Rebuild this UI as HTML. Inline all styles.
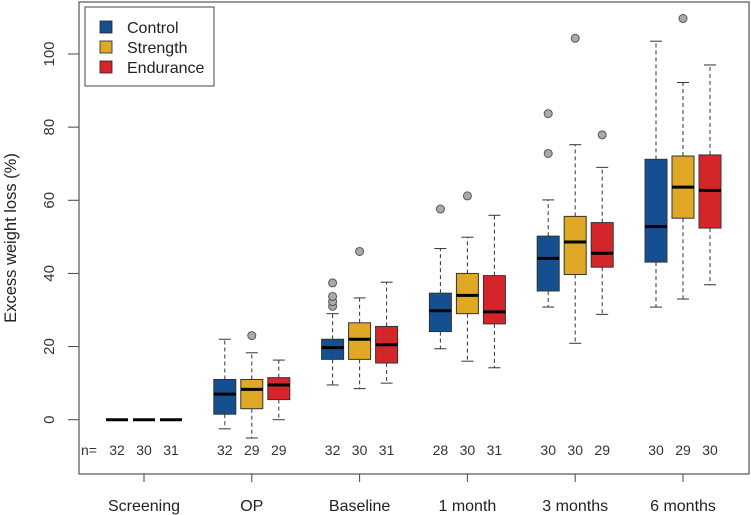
<!DOCTYPE html>
<html><head><meta charset="utf-8"><style>
html,body{margin:0;padding:0;background:#fff;}
svg{display:block;font-family:"Liberation Sans",Arial,sans-serif;}
</style></head><body>
<svg id="chart" width="751" height="515" viewBox="0 0 751 515" xmlns="http://www.w3.org/2000/svg">
<rect x="79" y="2" width="670" height="472" fill="none" stroke="#555" stroke-width="1.2"/>
<g id="yaxis"></g>
<text transform="translate(16,238) rotate(-90)" text-anchor="middle" font-size="16.5" fill="#222">Excess weight loss (%)</text>
<g id="marks"></g>
<g id="xaxis"></g>
<g>
<rect x="85" y="7" width="129" height="79" fill="#fff" stroke="#444" stroke-width="1"/>
<rect x="100" y="21" width="12" height="12" fill="#14508f" stroke="#222" stroke-width="0.8"/>
<text x="127" y="33" font-size="16" fill="#222">Control</text>
<rect x="100" y="41" width="12" height="12" fill="#e0a925" stroke="#222" stroke-width="0.8"/>
<text x="127" y="53" font-size="16" fill="#222">Strength</text>
<rect x="100" y="61" width="12" height="12" fill="#d4252a" stroke="#222" stroke-width="0.8"/>
<text x="127" y="73" font-size="16" fill="#222">Endurance</text>
</g>
</svg>
<script>
const categories = ["Screening","OP","Baseline","1 month","3 months","6 months"];
const seriesNames = ["Control","Strength","Endurance"];
const seriesColors = ["#14508f","#e0a925","#d4252a"];
// [whiskerLow, q1, median, q3, whiskerHigh] per category
const controlStats = [[0,0,0,0,0],[-2.5,1.5,7,11,22],[9.5,16.5,19.7,22,29],[19.4,24.1,29.8,34.6,46.8],[30.8,35.2,44.1,50.2,60.1],[30.8,43.1,52.8,71.2,103.5]];
const strengthStats = [[0,0,0,0,0],[-5,3,8.3,11,18.3],[8.5,16.5,22,26.5,33.3],[16,29,34,40,49.9],[20.9,39.7,48.6,55.6,75.2],[33,55.1,63.6,72.1,92.2]];
const enduranceStats = [[0,0,0,0,0],[0,5.5,9.5,11.5,16.3],[10,15.5,20.5,25.5,37.6],[14.2,26.2,29.5,39.4,55.9],[28.8,41.7,45.5,53.9,69],[36.9,52.4,62.7,72.4,97]];
const controlOutliers = [[],[],[31,32.3,33.7,37.4],[57.6],[72.8,83.7],[]];
const strengthOutliers = [[],[23],[46],[61.2],[104.3],[109.7]];
const enduranceOutliers = [[],[],[],[],[77.9],[]];
const controlN = [32,32,32,28,30,30];
const strengthN = [30,29,30,30,30,29];
const enduranceN = [31,29,31,31,29,30];
const yTicks = [0,20,40,60,80,100];

const NS="http://www.w3.org/2000/svg";
function y(v){return 419.7-v*3.657;}
function xc(i){return 144+i*107.8;}
function xs(i,s){return xc(i)+(s-1)*27;}
function mk(tag,attrs,parent){const e=document.createElementNS(NS,tag);for(const k in attrs)e.setAttribute(k,attrs[k]);parent.appendChild(e);return e;}

const yax=document.getElementById('yaxis');
yTicks.forEach(t=>{
  const l=mk('line',{x1:68,x2:79,y1:y(t),y2:y(t),stroke:'#444','stroke-width':1},yax);
  
  
  const tx=mk('text',{transform:`translate(54,${y(t)}) rotate(-90)`,'text-anchor':'middle','font-size':15,fill:'#333'},yax);
  
  
  tx.textContent=t;
});

const xax=document.getElementById('xaxis');
categories.forEach((c,i)=>{
  const l=mk('line',{x1:xc(i),x2:xc(i),y1:474,y2:482,stroke:'#444','stroke-width':1},xax);
  
  
  const tx=mk('text',{x:xc(i),y:511,'text-anchor':'middle','font-size':16,fill:'#222'},xax);
  
  
  tx.textContent=c;
});

const g=document.getElementById('marks');
const nl=mk('text',{x:89,y:455,'text-anchor':'middle','font-size':14,fill:'#333'},g);


nl.textContent='n=';

const allStats=[controlStats,strengthStats,enduranceStats];
const allOut=[controlOutliers,strengthOutliers,enduranceOutliers];
const allN=[controlN,strengthN,enduranceN];
categories.forEach((c,i)=>{
  for(let s=0;s<3;s++){
    const st=allStats[s][i];const x=xs(i,s);const hw=11;
    const grp=mk('g',{},g);
    
    
    if(st[4]-st[0]>0.01){
      mk('line',{x1:x,x2:x,y1:y(st[3]),y2:y(st[4]),stroke:'#333','stroke-dasharray':'4,3','stroke-width':1},grp);
      mk('line',{x1:x,x2:x,y1:y(st[1]),y2:y(st[0]),stroke:'#333','stroke-dasharray':'4,3','stroke-width':1},grp);
      mk('line',{x1:x-6,x2:x+6,y1:y(st[4]),y2:y(st[4]),stroke:'#333','stroke-width':1},grp);
      mk('line',{x1:x-6,x2:x+6,y1:y(st[0]),y2:y(st[0]),stroke:'#333','stroke-width':1},grp);
      mk('rect',{x:x-hw,y:y(st[3]),width:2*hw,height:y(st[1])-y(st[3]),fill:seriesColors[s],stroke:'#333','stroke-width':1},grp);
    }
    mk('line',{x1:x-hw,x2:x+hw,y1:y(st[2]),y2:y(st[2]),stroke:'#000','stroke-width':3},grp);
    allOut[s][i].forEach(o=>{
      const ci=mk('circle',{cx:x,cy:y(o),r:4,fill:'#aaa',stroke:'#555','stroke-width':1},g);
      
      
    });
    const nt=mk('text',{x:x,y:455,'text-anchor':'middle','font-size':14,fill:'#333'},g);
    
    
    nt.textContent=allN[s][i];
  }
});
</script>
</body></html>
